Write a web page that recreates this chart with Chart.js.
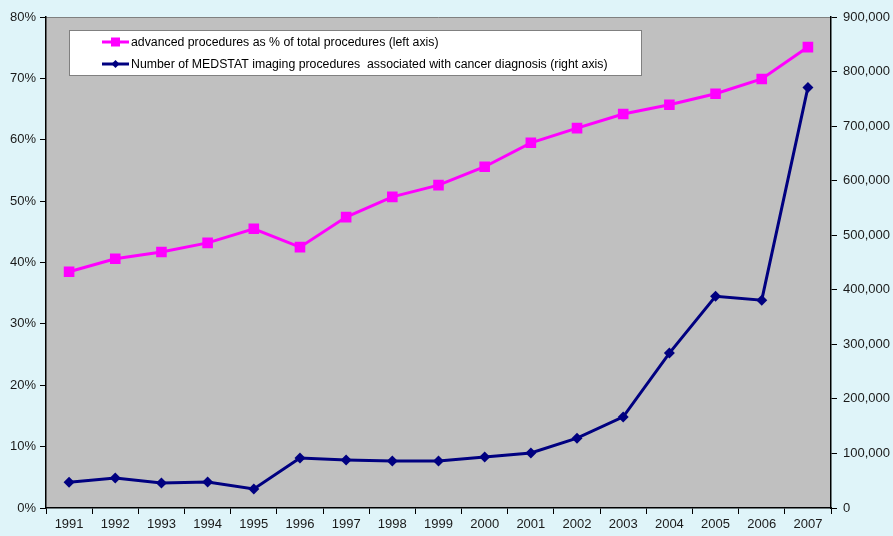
<!DOCTYPE html>
<html>
<head>
<meta charset="utf-8">
<script src="https://cdn.jsdelivr.net/npm/chart.js@4.4.1/dist/chart.umd.min.js"></script>
<style>
  html, body { margin: 0; padding: 0; background: #dff4f9; }
  #wrap { width: 893px; height: 536px; position: relative; }
</style>
</head>
<body>
<div id="wrap"><canvas id="chart" width="893" height="536"></canvas></div>
<script>
const years = ["1991","1992","1993","1994","1995","1996","1997","1998","1999",
  "2000","2001","2002","2003","2004","2005","2006","2007"];

// % of total procedures that were advanced (left axis)
const advancedPct = [38.5, 40.6, 41.7, 43.2, 45.5, 42.5, 47.4, 50.7, 52.6,
  55.6, 59.5, 61.9, 64.2, 65.7, 67.5, 69.9, 75.1];

// MEDSTAT imaging procedures linked to cancer diagnosis (right axis)
const medstatCount = [47000, 55000, 46000, 47500, 35000, 91500, 88000, 86000, 86000,
  93500, 101000, 128000, 167000, 284000, 388000, 381000, 771000];

const legendLabels = [
  "advanced procedures as % of total procedures (left axis)",
  "Number of MEDSTAT imaging procedures  associated with cancer diagnosis (right axis)"
];

const font = { family: "'Liberation Sans', Arial, sans-serif", size: 13 };

// gray plot area + outline
const plotBg = {
  id: "plotBg",
  beforeDraw(chart) {
    const { ctx, chartArea: a } = chart;
    ctx.save();
    ctx.fillStyle = "#c0c0c0";
    ctx.fillRect(a.left, a.top, a.right - a.left, a.bottom - a.top);
    ctx.strokeStyle = "#808080";
    ctx.lineWidth = 1;
    ctx.beginPath();
    ctx.moveTo(a.left, a.top + 0.5);
    ctx.lineTo(a.right, a.top + 0.5);
    ctx.stroke();
    ctx.restore();
  }
};

// legend box drawn inside the plot
const boxLegend = {
  id: "boxLegend",
  afterDatasetsDraw(chart) {
    const { ctx } = chart;
    const x = 69, y = 30, w = 572, h = 45;
    ctx.save();
    ctx.fillStyle = "#ffffff";
    ctx.fillRect(x, y, w, h);
    ctx.strokeStyle = "#808080";
    ctx.lineWidth = 1;
    ctx.strokeRect(x + 0.5, y + 0.5, w, h);
    ctx.font = "12.3px " + font.family;
    ctx.textBaseline = "middle";
    chart.data.datasets.forEach((ds, i) => {
      const cy = y + 12 + i * 22;
      ctx.strokeStyle = ds.borderColor;
      ctx.lineWidth = 3;
      ctx.beginPath();
      ctx.moveTo(102, cy);
      ctx.lineTo(129, cy);
      ctx.stroke();
      ctx.fillStyle = ds.backgroundColor;
      if (ds.pointStyle === "rect") {
        ctx.fillRect(111, cy - 4.5, 9, 9);
      } else {
        ctx.beginPath();
        ctx.moveTo(115.5, cy - 4);
        ctx.lineTo(119.5, cy);
        ctx.lineTo(115.5, cy + 4);
        ctx.lineTo(111.5, cy);
        ctx.closePath();
        ctx.fill();
      }
      ctx.fillStyle = "#000000";
      ctx.fillText(legendLabels[i], 131, cy + 1);
    });
    ctx.restore();
  }
};

new Chart(document.getElementById("chart"), {
  type: "line",
  data: {
    labels: years,
    datasets: [
      {
        label: legendLabels[0],
        data: advancedPct,
        yAxisID: "y",
        borderColor: "#ff00ff",
        backgroundColor: "#ff00ff",
        borderWidth: 3,
        pointStyle: "rect",
        pointRadius: 7.5,
        pointBorderWidth: 0,
        tension: 0
      },
      {
        label: legendLabels[1],
        data: medstatCount,
        yAxisID: "y1",
        borderColor: "#000080",
        backgroundColor: "#000080",
        borderWidth: 3,
        pointStyle: "rectRot",
        pointRadius: 5.5,
        pointBorderWidth: 0,
        tension: 0
      }
    ]
  },
  options: {
    responsive: false,
    animation: false,
    layout: { padding: { top: 17, left: 0, right: 0, bottom: 0 } },
    plugins: {
      legend: { display: false },
      tooltip: { enabled: false }
    },
    scales: {
      x: {
        offset: true,
        grid: {
          offset: true,
          drawOnChartArea: false,
          tickLength: 6,
          color: "#000000",
          tickColor: "#000000"
        },
        border: { color: "#000000", width: 1.5 },
        ticks: { color: "#1a1a1a", font: font, padding: 3, maxRotation: 0, autoSkip: false },
        afterFit(s) { s.height = 28; }
      },
      y: {
        position: "left",
        min: 0,
        max: 80,
        grid: { drawOnChartArea: false, tickLength: 6, tickColor: "#000000" },
        border: { color: "#000000", width: 1.5 },
        ticks: {
          stepSize: 10,
          color: "#1a1a1a",
          font: font,
          padding: 4,
          callback: v => v + "%"
        },
        afterFit(s) { s.width = 46; }
      },
      y1: {
        position: "right",
        min: 0,
        max: 900000,
        grid: { drawOnChartArea: false, tickLength: 6, tickColor: "#000000" },
        border: { color: "#000000", width: 1.5 },
        ticks: {
          stepSize: 100000,
          color: "#1a1a1a",
          font: font,
          padding: 6,
          callback: v => v.toLocaleString("en-US")
        },
        afterFit(s) { s.width = 62; }
      }
    }
  },
  plugins: [plotBg, boxLegend]
});
</script>
</body>
</html>
